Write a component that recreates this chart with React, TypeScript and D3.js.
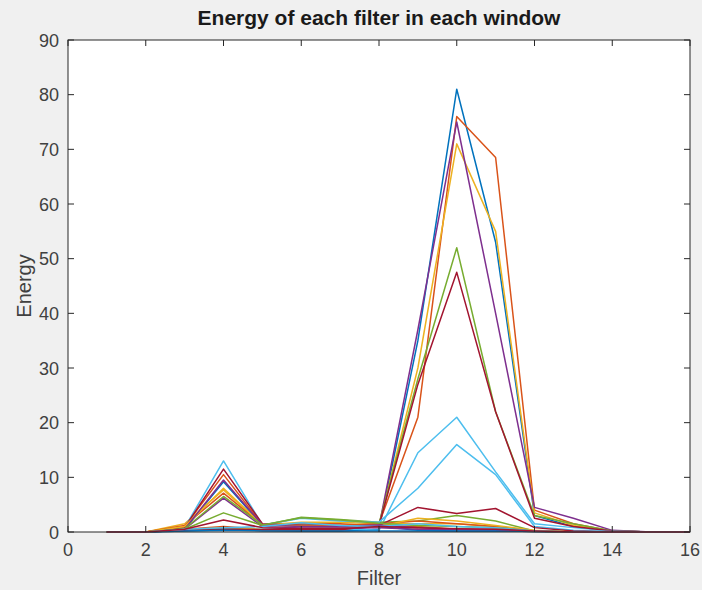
import React from "react";
import * as d3 from "d3";

const filters = d3.range(1, 17);
const xTicks = [0, 2, 4, 6, 8, 10, 12, 14, 16];
const yTicks = [0, 10, 20, 30, 40, 50, 60, 70, 80, 90];
const colors = ["#0072BD", "#D95319", "#EDB120", "#7E2F8E", "#77AC30", "#4DBEEE", "#A2142F"];

const w1 = [0, 0, 0.3, 0.5, 0.3, 0.2, 0.2, 0.5, 35, 81, 53, 3, 1, 0.2, 0, 0];
const w2 = [0, 0, 0.5, 1, 0.5, 0.3, 0.3, 1.5, 21, 76, 68.5, 4, 1.5, 0.2, 0, 0];
const w3 = [0, 0, 0.4, 0.8, 0.4, 0.3, 0.3, 1.2, 30, 71, 55, 3.5, 1.2, 0.2, 0, 0];
const w4 = [0, 0, 0.3, 0.6, 0.3, 0.3, 0.3, 1, 37, 75, 40, 4.5, 2.5, 0.3, 0, 0];
const w5 = [0, 0, 0.3, 0.5, 0.4, 0.4, 0.4, 1.5, 28, 52, 22, 3, 1.5, 0.2, 0, 0];
const w6 = [0, 0, 0.2, 0.3, 0.5, 0.8, 0.6, 0.3, 14.5, 21, 11, 1.5, 0.8, 0.2, 0, 0];
const w7 = [0, 0, 0.3, 0.5, 0.4, 0.4, 0.4, 1.2, 27, 47.5, 22, 2.5, 1, 0.2, 0, 0];
const w8 = [0, 0, 0.5, 9.2, 1.2, 1.5, 1.2, 1, 0.3, 0.2, 0.2, 0.1, 0, 0, 0, 0];
const w9 = [0, 0, 1, 10.5, 1.3, 1.5, 1.5, 1.2, 1, 0.5, 0.3, 0.1, 0, 0, 0, 0];
const w10 = [0, 0, 1.5, 7.7, 1.3, 1.8, 1.8, 1.5, 1.5, 1.5, 1, 0.2, 0, 0, 0, 0];
const w11 = [0, 0, 0.5, 6.2, 1, 0.8, 0.8, 0.8, 0.5, 0.4, 0.3, 0.2, 0, 0, 0, 0];
const w12 = [0, 0, 0.5, 3.5, 1.2, 2.7, 2.3, 1.8, 2, 3, 2, 0.2, 0, 0, 0, 0];
const w13 = [0, 0, 0.8, 13, 1.3, 2.5, 2, 1.8, 8, 16, 10.5, 1, 0.3, 0.1, 0, 0];
const w14 = [0, 0, 0.8, 11.5, 1.5, 1.2, 1, 1.2, 4.5, 3.4, 4.3, 0.8, 0.2, 0, 0, 0];
const w15 = [0, 0, 0.2, 0.3, 0.2, 0.2, 0.2, 0.2, 0.2, 0.2, 0.2, 0.1, 0, 0, 0, 0];
const w16 = [0, 0, 1.2, 7.1, 1.3, 1.2, 1.2, 1.5, 2, 1.5, 1, 0.2, 0, 0, 0, 0];
const w17 = [0, 0, 1, 8, 1.3, 1, 1, 1, 2.5, 2, 1.2, 0.3, 0, 0, 0, 0];
const w18 = [0, 0, 0.5, 9.5, 1.3, 1, 1, 1.3, 0.8, 0.5, 0.5, 0.2, 0, 0, 0, 0];
const w19 = [0, 0, 0.6, 6.5, 1.3, 2.6, 2.2, 1.6, 1.2, 1, 0.8, 0.2, 0, 0, 0, 0];
const w20 = [0, 0, 0.5, 0.8, 1, 1.7, 1.2, 1, 1.5, 1, 0.8, 0.2, 0, 0, 0, 0];
const w21 = [0, 0, 0.5, 2.2, 0.8, 0.6, 0.6, 1, 0.8, 0.6, 0.5, 0.2, 0, 0, 0, 0];

const windows = [w1, w2, w3, w4, w5, w6, w7, w8, w9, w10, w11, w12, w13, w14, w15, w16, w17, w18, w19, w20, w21];

const W = 702;
const H = 590;
const M = { left: 68, right: 12, top: 40, bottom: 58 };

export default function App() {
  const x = d3.scaleLinear().domain([0, 16]).range([M.left, W - M.right]);
  const y = d3.scaleLinear().domain([0, 90]).range([H - M.bottom, M.top]);
  const line = d3
    .line<number>()
    .x((_, i) => x(filters[i]))
    .y((d) => y(d));
  const x0 = x(0), x1 = x(16), y0 = y(0), y1 = y(90);
  const axisColor = "#262626";
  const tickLen = 6;
  const font = "'Liberation Sans', Arial, Helvetica, sans-serif";
  return (
    <svg width={W} height={H} style={{ position: "absolute", left: 0, top: 0 }} fontFamily={font}>
      <rect x={0} y={0} width={W} height={H} fill="#f0f0f0" />
      <rect x={x0} y={y1} width={x1 - x0} height={y0 - y1} fill="#ffffff" />
      <g fill="none" strokeWidth={1.5} strokeLinejoin="round">
        {windows.map((w, i) => (
          <path key={i} d={line(w) || ""} stroke={colors[i % colors.length]} />
        ))}
      </g>
      <g stroke={axisColor} strokeWidth={1}>
        <rect x={x0} y={y1} width={x1 - x0} height={y0 - y1} fill="none" />
        {xTicks.map((t) => (
          <g key={"x" + t}>
            <line x1={x(t)} x2={x(t)} y1={y0} y2={y0 - tickLen} />
            <line x1={x(t)} x2={x(t)} y1={y1} y2={y1 + tickLen} />
          </g>
        ))}
        {yTicks.map((t) => (
          <g key={"y" + t}>
            <line x1={x0} x2={x0 + tickLen} y1={y(t)} y2={y(t)} />
            <line x1={x1} x2={x1 - tickLen} y1={y(t)} y2={y(t)} />
          </g>
        ))}
      </g>
      <g fill="#404040" fontSize={18}>
        {xTicks.map((t) => (
          <text key={"xl" + t} x={x(t)} y={y0 + 24} textAnchor="middle">
            {t}
          </text>
        ))}
        {yTicks.map((t) => (
          <text key={"yl" + t} x={x0 - 9} y={y(t) + 6.5} textAnchor="end">
            {t}
          </text>
        ))}
      </g>
      <text x={(x0 + x1) / 2} y={585} textAnchor="middle" fontSize={20} fill="#404040">
        Filter
      </text>
      <text
        transform={`translate(31, ${(y0 + y1) / 2}) rotate(-90)`}
        textAnchor="middle"
        fontSize={20}
        fill="#404040"
      >
        Energy
      </text>
      <text x={(x0 + x1) / 2} y={25} textAnchor="middle" fontSize={21} fontWeight="bold" fill="#1a1a1a">
        Energy of each filter in each window
      </text>
    </svg>
  );
}
